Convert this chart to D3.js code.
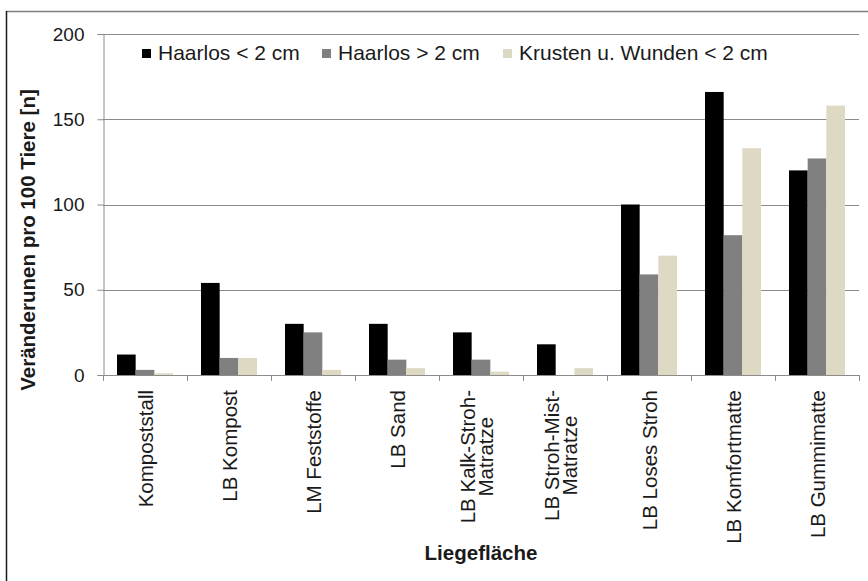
<!DOCTYPE html>
<html><head><meta charset="utf-8">
<script src="https://cdn.jsdelivr.net/npm/d3@7/dist/d3.min.js"></script>
<style>body{margin:0;background:#fff}svg{display:block;font-family:"Liberation Sans",Arial,sans-serif}</style>
</head><body><svg id="c" width="868" height="581"></svg>
<script>
const categories = [["Kompoststall"],["LB Kompost"],["LM Feststoffe"],["LB Sand"],["LB Kalk-Stroh-","Matratze"],["LB Stroh-Mist-","Matratze"],["LB Loses Stroh"],["LB Komfortmatte"],["LB Gummimatte"]];
const seriesNames = ["Haarlos < 2 cm","Haarlos > 2 cm","Krusten u. Wunden < 2 cm"];
const haarlosKlein = [12,54,30,30,25,18,100,166,120];
const haarlosGross = [3,10,25,9,9,0,59,82,127];
const krusten = [1,10,3,4,2,4,70,133,158];
const yTicks = [0,50,100,150,200];
const colors = ["#000000","#808080","#ddd9c3"];
const series = [haarlosKlein, haarlosGross, krusten];

const svg = d3.select("#c");
const L=103, R=859, T=34, B=375;
const x0 = d3.scaleBand().domain(d3.range(categories.length)).range([L,R]).paddingInner(1/3).paddingOuter(1/6);
const x1 = d3.scaleBand().domain(d3.range(series.length)).range([0,x0.bandwidth()]);
const y = d3.scaleLinear().domain([0,200]).range([B,T]);

// frame
svg.append("line").attr("x1",6).attr("x2",868).attr("y1",11.5).attr("y2",11.5).attr("stroke","#7f7f7f").attr("stroke-width",1.5);
svg.append("line").attr("x1",6.5).attr("x2",6.5).attr("y1",11).attr("y2",581).attr("stroke","#1a1a1a").attr("stroke-width",1.5);

// gridlines
svg.append("g").selectAll("line").data(yTicks.filter(d=>d>0)).join("line")
  .attr("x1",L).attr("x2",R).attr("y1",d=>Math.round(y(d))+0.5).attr("y2",d=>Math.round(y(d))+0.5)
  .attr("stroke","#8c8c8c").attr("stroke-width",1);

// y axis
const yAx = svg.append("g").attr("transform",`translate(${L+0.5},0)`)
  .call(d3.axisLeft(y).tickValues(yTicks).tickSize(6).tickPadding(13));
yAx.select(".domain").attr("stroke","#8c8c8c");
yAx.selectAll(".tick line").attr("stroke","#8c8c8c");
yAx.selectAll(".tick text").attr("font-size",19).attr("fill","#1a1a1a").attr("font-family","Liberation Sans, Arial, sans-serif");

// bars
series.forEach((s,si)=>{
  svg.append("g").selectAll("rect").data(s).join("rect")
    .attr("x",(d,i)=>x0(i)+x1(si)).attr("width",x1.bandwidth())
    .attr("y",d=>y(d)).attr("height",d=>B-y(d)).attr("fill",colors[si]);
});

// x axis
const bounds = d3.range(categories.length+1).map(i=>L+i*(R-L)/categories.length);
svg.append("line").attr("x1",L).attr("x2",R).attr("y1",B+0.5).attr("y2",B+0.5).attr("stroke","#8c8c8c");
svg.append("g").selectAll("line").data(bounds).join("line")
  .attr("x1",d=>Math.round(d)+0.5).attr("x2",d=>Math.round(d)+0.5).attr("y1",B).attr("y2",B+6).attr("stroke","#8c8c8c");

// x labels
const lg = svg.append("g");
categories.forEach((lines,i)=>{
  const cx = x0(i)+x0.bandwidth()/2 + (lines.length>1 ? -4 : 1);
  const g = lg.append("g");
  const t = g.append("text").attr("font-size",20.5).attr("fill","#1a1a1a").attr("text-anchor","middle");
  const lh = 18;
  lines.forEach((ln,j)=>{
    t.append("tspan").attr("x",0).attr("y",(j-(lines.length-1)/2)*lh).attr("dy","0.35em").text(ln);
  });
  let maxLen = 0;
  t.selectAll("tspan").each(function(){maxLen=Math.max(maxLen,this.getComputedTextLength());});
  g.attr("transform",`translate(${cx},${390+maxLen/2}) rotate(-90)`);
});

// axis titles
svg.append("text").attr("transform","translate(28,240) rotate(-90)").attr("text-anchor","middle")
  .attr("dy","0.35em").attr("font-size",20.5).attr("font-weight","bold").attr("fill","#1a1a1a").text("Veränderunen pro 100 Tiere [n]");
svg.append("text").attr("x",(L+R)/2).attr("y",560).attr("text-anchor","middle")
  .attr("font-size",20.5).attr("font-weight","bold").attr("fill","#1a1a1a").text("Liegefläche");

// legend
const legX = [142,322,503];
seriesNames.forEach((n,i)=>{
  svg.append("rect").attr("x",legX[i]).attr("y",49).attr("width",9).attr("height",9).attr("fill",colors[i]);
  svg.append("text").attr("x",legX[i]+16).attr("y",53).attr("dy","0.35em").attr("font-size",21).attr("fill","#1a1a1a").text(n);
});
</script></body></html>
